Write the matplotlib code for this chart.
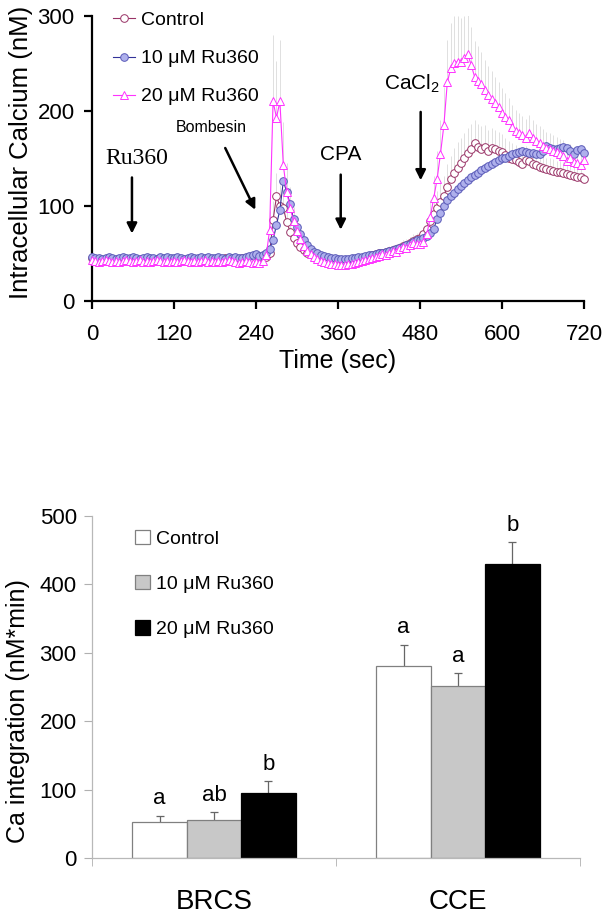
import matplotlib
matplotlib.use('Agg')
import matplotlib.pyplot as plt
from matplotlib.patches import Patch

"""Ru360 calcium traces (top) and integrated calcium (bottom)"""

plt.rcParams['font.family'] = ['Liberation Sans', 'DejaVu Sans']
plt.rcParams['mathtext.default'] = 'regular'

# ---- top panel: time course, one sample every 5 sec ----
time_sec = list(range(0, 725, 5))

control = [
    45, 44, 44, 43, 44, 45, 44, 43, 44, 45, 44, 44,
    45, 44, 43, 44, 45, 44, 43, 44, 45, 44, 44, 43,
    44, 45, 44, 43, 44, 45, 44, 44, 43, 44, 45, 44,
    44, 43, 44, 45, 44, 43, 44, 44, 45, 44, 43, 44,
    45, 45, 46, 46, 50, 85, 110, 100, 98, 83, 73, 66,
    61, 57, 54, 51, 49, 47, 46, 45, 44, 43, 43, 42,
    42, 42, 42, 43, 43, 43, 44, 45, 46, 47, 48, 49,
    50, 51, 52, 53, 54, 55, 56, 58, 59, 61, 63, 65,
    66, 70, 76, 84, 92, 98, 104, 110, 120, 128, 135, 140,
    145, 150, 156, 160, 166, 162, 160, 162, 158, 161, 160, 158,
    157, 154, 151, 149, 148, 146, 144, 148, 147, 144, 143, 141,
    140, 139, 138, 137, 136, 136, 135, 134, 133, 132, 131, 130,
    128,
]

ru360_10 = [
    46, 45, 45, 44, 45, 46, 45, 44, 45, 46, 45, 45,
    46, 45, 44, 45, 46, 45, 45, 44, 46, 45, 46, 45,
    45, 46, 45, 44, 45, 46, 45, 45, 46, 45, 46, 45,
    45, 46, 45, 44, 46, 45, 46, 45, 45, 46, 47, 48,
    49, 47, 48, 50, 55, 64, 80, 96, 126, 115, 102, 86,
    78, 70, 64, 59, 55, 52, 50, 48, 47, 46, 45, 45,
    44, 44, 44, 44, 45, 45, 46, 46, 47, 48, 48, 49,
    50, 51, 52, 53, 54, 55, 56, 57, 59, 60, 62, 64,
    64, 66, 68, 72, 76, 86, 93, 100, 106, 110, 114, 118,
    121, 124, 127, 130, 133, 135, 138, 140, 142, 144, 146, 148,
    150, 151, 153, 155, 156, 157, 158, 157, 156, 156, 155, 155,
    158, 163, 161, 160, 160, 161, 162, 161, 158, 155, 159, 160,
    156,
]

ru360_20 = [
    43, 42, 41, 42, 43, 42, 41, 42, 41, 42, 43, 42,
    41, 42, 43, 41, 42, 41, 42, 43, 42, 41, 42, 41,
    42, 41, 42, 43, 42, 41, 42, 41, 42, 43, 41, 42,
    41, 42, 41, 42, 43, 42, 41, 40, 41, 42, 41, 40,
    41, 40, 42, 48, 75, 210, 193, 210, 143, 115, 98, 84,
    74, 65, 58, 53, 49, 46, 44, 42, 41, 40, 39, 39,
    38, 38, 38, 39, 39, 40, 41, 42, 43, 44, 45, 46,
    47, 49, 48, 51, 53, 52, 55, 57, 56, 59, 61, 60,
    60, 62, 70, 88, 108, 128, 155, 185, 230, 245, 250, 252,
    252, 256, 260, 248, 236, 232, 228, 222, 217, 213, 208, 204,
    198, 194, 190, 183, 179, 177, 175, 172, 177, 172, 168, 166,
    163, 161, 160, 158, 157, 155, 153, 147, 150, 146, 145, 143,
    148,
]

# upper SEM (only drawn upward, faint)
control_err = [
    2, 2, 2, 2, 2, 2, 2, 2, 2, 2, 2, 2,
    2, 2, 2, 2, 2, 2, 2, 2, 2, 2, 2, 2,
    2, 2, 2, 2, 2, 2, 2, 2, 2, 2, 2, 2,
    2, 2, 2, 2, 2, 2, 2, 2, 2, 2, 3, 3,
    3, 3, 3, 4, 8, 20, 25, 22, 20, 15, 12, 10,
    8, 6, 5, 4, 4, 3, 3, 3, 3, 3, 3, 3,
    3, 3, 3, 3, 3, 3, 3, 3, 3, 4, 4, 4,
    4, 4, 4, 5, 5, 5, 5, 6, 6, 6, 7, 7,
    7, 8, 10, 12, 15, 18, 20, 22, 24, 25, 26, 27,
    27, 27, 26, 26, 25, 24, 24, 23, 22, 21, 20, 20,
    19, 18, 17, 17, 16, 16, 15, 15, 14, 14, 13, 13,
    13, 12, 12, 12, 11, 11, 11, 10, 10, 10, 10, 10,
    10,
]

ru360_20_err = [
    3, 3, 2, 3, 3, 2, 3, 3, 2, 3, 3, 2,
    3, 2, 3, 3, 2, 3, 3, 2, 3, 3, 2, 3,
    2, 3, 3, 2, 3, 3, 2, 3, 3, 2, 3, 3,
    3, 2, 3, 3, 2, 3, 3, 2, 3, 3, 4, 4,
    4, 4, 5, 8, 20, 70, 60, 65, 45, 30, 22, 15,
    12, 10, 8, 6, 5, 4, 4, 3, 3, 3, 3, 3,
    3, 3, 3, 3, 3, 3, 3, 4, 4, 4, 4, 5,
    5, 5, 5, 6, 6, 6, 6, 7, 7, 7, 8, 8,
    8, 9, 12, 18, 24, 30, 36, 40, 45, 48, 50, 48,
    46, 44, 42, 40, 38, 36, 34, 32, 30, 29, 28, 27,
    26, 25, 24, 23, 22, 21, 20, 20, 19, 19, 18, 18,
    18, 17, 17, 17, 16, 16, 16, 15, 15, 15, 15, 15,
    15,
]

series_labels = ['Control', '10 μM Ru360', '20 μM Ru360']

# ---- bottom panel: integrated calcium ----
phases = ['BRCS', 'CCE']
ca_control = [52, 280]
ca_10 = [56, 251]
ca_20 = [95, 430]
err_control = [10, 31]
err_10 = [11, 19]
err_20 = [17, 31]
letters_control = ['a', 'a']
letters_10 = ['ab', 'a']
letters_20 = ['b', 'b']


def plot_traces(ax):
    styles = [
        dict(marker='o', color='#993366', mfc='white', mec='#993366', ms=5.5),
        dict(marker='o', color='#333399', mfc='#aeb0ec', mec='#5a5ab8', ms=5.5),
        dict(marker='^', color='#ff33ff', mfc='white', mec='#ff33ff', ms=6),
    ]
    for vals, err in [(control, control_err), (ru360_20, ru360_20_err)]:
        ax.vlines(time_sec, vals, [v + e for v, e in zip(vals, err)],
                  color='#e0e0e0', lw=0.7, zorder=1)
    for vals, label, st in zip([control, ru360_10, ru360_20], series_labels, styles):
        ax.plot(time_sec, vals, lw=0.8, mew=0.7, label=label, clip_on=False,
                zorder=3, **st)

    ax.set_xlim(0, 720)
    ax.set_ylim(0, 300)
    ax.set_xticks(range(0, 721, 120))
    ax.set_yticks([0, 100, 200, 300])
    for side in ['top', 'right']:
        ax.spines[side].set_visible(False)
    for side in ['left', 'bottom']:
        ax.spines[side].set_linewidth(1.6)
    ax.tick_params(width=1.6, length=5.5, labelsize=16, direction='out')
    ax.tick_params(axis='x', pad=11)
    ax.tick_params(axis='y', pad=7)
    ax.set_xlabel('Time (sec)', fontsize=18, labelpad=3)
    ax.set_ylabel('Intracellular Calcium (nM)', fontsize=18.5)
    ax.yaxis.set_label_coords(-0.12, 0.523)

    ax.legend(loc='upper left', bbox_to_anchor=(0.043, 1.015), frameon=False,
              fontsize=14, handlelength=1.15, handletextpad=0.3,
              labelspacing=1.05, borderpad=0, borderaxespad=0)

    arrow = dict(arrowstyle='-|>,head_length=0.6,head_width=0.3', lw=1.8,
                 color='black', shrinkA=0, shrinkB=0)
    ax.annotate('', xy=(58.5, 71), xytext=(58.5, 130), arrowprops=arrow)
    ax.text(66, 150, 'Ru360', family='Liberation Serif', fontsize=17,
            ha='center', va='center')
    ax.annotate('', xy=(239, 96), xytext=(195, 161), arrowprops=arrow)
    ax.text(174, 183, 'Bombesin', fontsize=11.5, ha='center', va='center')
    ax.annotate('', xy=(364, 75), xytext=(364, 133), arrowprops=arrow)
    ax.text(364, 154, 'CPA', fontsize=15, ha='center', va='center')
    ax.annotate('', xy=(481, 127), xytext=(481, 199), arrowprops=arrow)
    ax.text(468, 229, 'CaCl$_2$', fontsize=15, ha='center', va='center')


def plot_bars(ax):
    width = 0.223
    groups = [
        (ca_control, err_control, letters_control, 'white', '#808080', -width),
        (ca_10, err_10, letters_10, '#c8c8c8', '#808080', 0),
        (ca_20, err_20, letters_20, 'black', 'black', width),
    ]
    centers = [0.5, 1.5]
    for vals, errs, letters, fill, edge, off in groups:
        xs = [c + off for c in centers]
        ax.errorbar(xs, vals, yerr=errs, fmt='none', ecolor='#666666',
                    elinewidth=0.9, capsize=3, capthick=0.9, zorder=1)
        ax.bar(xs, vals, width=width, color=fill, edgecolor=edge, lw=0.9, zorder=2)
        for x, v, e, s in zip(xs, vals, errs, letters):
            ax.text(x, v + e + 17, s, ha='center', va='baseline', fontsize=16)

    ax.set_xlim(0, 2)
    ax.set_ylim(0, 500)
    ax.set_yticks(range(0, 501, 100))
    ax.set_xticks(centers)
    ax.set_xticklabels(phases, fontsize=20)
    ax.set_xticks([0, 1, 2], minor=True)
    ax.tick_params(axis='x', which='major', length=0, pad=22)
    ax.tick_params(axis='x', which='minor', length=6, color='#b0b0b0')
    ax.tick_params(axis='y', length=6, color='#b0b0b0', labelsize=16, pad=5)
    for side in ['top', 'right']:
        ax.spines[side].set_visible(False)
    for side in ['left', 'bottom']:
        ax.spines[side].set_color('#b8b8b8')
        ax.spines[side].set_linewidth(0.9)
    ax.set_ylabel('Ca integration (nM*min)', fontsize=18)
    ax.yaxis.set_label_coords(-0.128, 0.43)

    handles = [Patch(facecolor='white', edgecolor='#808080', lw=0.9),
               Patch(facecolor='#c8c8c8', edgecolor='#808080', lw=0.9),
               Patch(facecolor='black', edgecolor='black', lw=0.9)]
    ax.legend(handles, series_labels, loc='upper left', bbox_to_anchor=(0.088, 0.958),
              frameon=False, fontsize=14, handlelength=0.75, handleheight=0.75,
              handletextpad=0.35, labelspacing=1.4, borderpad=0, borderaxespad=0)


def main():
    fig = plt.figure(figsize=(6.14, 9.23), dpi=100)
    ax_top = fig.add_axes([0.1498, 0.6739, 0.8013, 0.3088])
    ax_bot = fig.add_axes([0.1498, 0.0704, 0.7948, 0.3709])
    plot_traces(ax_top)
    plot_bars(ax_bot)
    fig.savefig('out.png', dpi=100)


if __name__ == '__main__':
    main()
